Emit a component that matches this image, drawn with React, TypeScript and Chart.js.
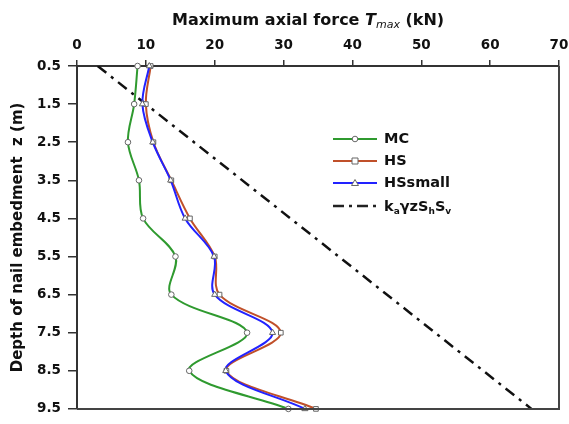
import React, { useEffect, useRef } from 'react';
import { Chart, registerables } from 'chart.js';

Chart.register(...registerables);

const depths = [0.5, 1.5, 2.5, 3.5, 4.5, 5.5, 6.5, 7.5, 8.5, 9.5];
const mcValues = [8.8, 8.3, 7.4, 9.0, 9.6, 14.3, 13.7, 24.7, 16.3, 30.7];
const hsValues = [10.7, 10.0, 11.1, 13.7, 16.4, 20.0, 20.7, 29.6, 21.7, 34.7];
const hsSmallValues = [10.5, 9.5, 11.0, 13.6, 15.7, 19.9, 20.0, 28.4, 21.6, 33.1];
const kaDepths = [0.5, 9.5];
const kaValues = [3, 66];
const depthTickLabels = ['0.5', '1.5', '2.5', '3.5', '4.5', '5.5', '6.5', '7.5', '8.5', '9.5'];

const FONT = '"DejaVu Sans", sans-serif';
const MC_COLOR = '#2f9a2f';
const HS_COLOR = '#c0502a';
const HSS_COLOR = '#2222ff';

const pts = (xs: number[], ys: number[]) => xs.map((x, i) => ({ x, y: ys[i] }));

const framePlugin = {
  id: 'frame',
  afterDraw(chart: any) {
    const { ctx, chartArea: a } = chart;
    ctx.save();
    ctx.strokeStyle = '#444';
    ctx.lineWidth = 2;
    ctx.beginPath();
    ctx.moveTo(a.right, a.top);
    ctx.lineTo(a.right, a.bottom);
    ctx.lineTo(a.left, a.bottom);
    ctx.stroke();
    ctx.restore();
  },
};

const titlePlugin = {
  id: 'xtitle',
  afterDraw(chart: any) {
    const ctx = chart.ctx;
    ctx.save();
    ctx.fillStyle = '#111';
    ctx.textBaseline = 'alphabetic';
    ctx.textAlign = 'left';
    let x = 172;
    const y = 25;
    const parts: [string, string, number][] = [
      ['Maximum axial force ', `bold 16px ${FONT}`, 0],
      ['T', `italic bold 16px ${FONT}`, 0],
      ['max', `italic 11px ${FONT}`, 3],
      [' (kN)', `bold 16px ${FONT}`, 0],
    ];
    for (const [t, f, dy] of parts) {
      ctx.font = f;
      ctx.fillText(t, x, y + dy);
      x += ctx.measureText(t).width;
    }
    ctx.restore();
  },
};

const legendPlugin = {
  id: 'customLegend',
  afterDraw(chart: any) {
    const ctx = chart.ctx;
    ctx.save();
    const x0 = 333;
    const x1 = 377;
    const tx = 384;
    const rows = [
      { y: 139, color: MC_COLOR, marker: 'circle', label: 'MC' },
      { y: 161, color: HS_COLOR, marker: 'rect', label: 'HS' },
      { y: 183, color: HSS_COLOR, marker: 'triangle', label: 'HSsmall' },
    ];
    for (const r of rows) {
      ctx.strokeStyle = r.color;
      ctx.lineWidth = 2;
      ctx.setLineDash([]);
      ctx.beginPath();
      ctx.moveTo(x0, r.y);
      ctx.lineTo(x1, r.y);
      ctx.stroke();
      ctx.fillStyle = '#fff';
      ctx.strokeStyle = '#666';
      ctx.lineWidth = 1;
      const mx = (x0 + x1) / 2;
      ctx.beginPath();
      if (r.marker === 'circle') ctx.arc(mx, r.y, 2.8, 0, Math.PI * 2);
      else if (r.marker === 'rect') ctx.rect(mx - 3, r.y - 3, 6, 6);
      else {
        ctx.moveTo(mx, r.y - 3.5);
        ctx.lineTo(mx + 3.5, r.y + 2.5);
        ctx.lineTo(mx - 3.5, r.y + 2.5);
        ctx.closePath();
      }
      ctx.fill();
      ctx.stroke();
      ctx.fillStyle = '#111';
      ctx.font = `bold 14.5px ${FONT}`;
      ctx.textBaseline = 'middle';
      ctx.fillText(r.label, tx, r.y);
    }
    const ky = 206;
    ctx.strokeStyle = '#222';
    ctx.lineWidth = 2.5;
    ctx.setLineDash([11, 5, 3, 5]);
    ctx.beginPath();
    ctx.moveTo(x0, ky);
    ctx.lineTo(x1, ky);
    ctx.stroke();
    ctx.setLineDash([]);
    ctx.fillStyle = '#111';
    ctx.textBaseline = 'alphabetic';
    const base = ky + 5;
    let x = tx;
    const parts: [string, number, number][] = [
      ['k', 14.5, 0], ['a', 9, 3], ['γzS', 14.5, 0], ['h', 9, 3], ['S', 14.5, 0], ['v', 9, 3],
    ];
    for (const [t, s, dy] of parts) {
      ctx.font = `bold ${s}px ${FONT}`;
      ctx.fillText(t, x, base + dy);
      x += ctx.measureText(t).width;
    }
    ctx.restore();
  },
};

export default function App() {
  const ref = useRef<HTMLCanvasElement | null>(null);
  useEffect(() => {
    if (!ref.current) return;
    const markerCommon = {
      pointBackgroundColor: '#fff',
      pointBorderColor: '#666',
      pointBorderWidth: 1,
      borderWidth: 2,
      tension: 0.35,
      clip: false as any,
    };
    const chart = new Chart(ref.current, {
      type: 'line',
      data: {
        datasets: [
          {
            label: 'HSsmall',
            data: pts(hsSmallValues, depths),
            borderColor: HSS_COLOR,
            pointStyle: 'triangle',
            pointRadius: 3.5,
            order: 0,
            ...markerCommon,
          },
          {
            label: 'HS',
            data: pts(hsValues, depths),
            borderColor: HS_COLOR,
            pointStyle: 'rect',
            pointRadius: 3.3,
            order: 1,
            ...markerCommon,
          },
          {
            label: 'MC',
            data: pts(mcValues, depths),
            borderColor: MC_COLOR,
            pointStyle: 'circle',
            pointRadius: 2.8,
            order: 2,
            ...markerCommon,
          },
          {
            label: 'kaγzShSv',
            data: pts(kaValues, kaDepths),
            borderColor: '#111',
            borderWidth: 2.5,
            borderDash: [11, 6, 3, 6],
            pointRadius: 0,
            tension: 0,
            order: 3,
          },
        ],
      },
      options: {
        animation: false,
        responsive: false,
        devicePixelRatio: 1,
        parsing: false as any,
        layout: { padding: { left: 0, top: 0, right: 0, bottom: 9 } },
        plugins: { legend: { display: false }, tooltip: { enabled: false } },
        scales: {
          x: {
            type: 'linear',
            position: 'top',
            min: 0,
            max: 70,
            ticks: { stepSize: 10, padding: 6, color: '#111', font: { family: FONT, size: 13.5, weight: 'bold' } },
            grid: { drawOnChartArea: false, drawTicks: true, tickLength: 6, color: '#333', lineWidth: 1.5 },
            border: { display: true, color: '#333', width: 2 },
            afterFit: (s: any) => {
              s.height = 66;
              s.paddingRight = 10;
              s.paddingLeft = 0;
            },
          },
          y: {
            type: 'linear',
            reverse: true,
            min: 0.5,
            max: 9.5,
            afterBuildTicks: (s: any) => { s.ticks = depths.map((v) => ({ value: v })); },
            ticks: {
              padding: 7,
              color: '#111',
              font: { family: FONT, size: 13.5, weight: 'bold' },
              callback: (_v: any, i: number) => depthTickLabels[i],
            },
            grid: { drawOnChartArea: false, drawTicks: true, tickLength: 9, color: '#333', lineWidth: 1.5 },
            border: { display: true, color: '#333', width: 2 },
            title: {
              display: true,
              text: 'Depth of nail embedment  z (m)',
              color: '#111',
              font: { family: FONT, size: 15, weight: 'bold' },
              padding: { top: 9, bottom: 0 },
            },
            afterFit: (s: any) => { s.width = 77; },
          },
        },
      },
      plugins: [framePlugin, titlePlugin, legendPlugin],
    } as any);
    return () => chart.destroy();
  }, []);
  return (
    <div style={{ position: 'fixed', left: 0, top: 0, width: 569, height: 424, background: '#fff' }}>
      <canvas ref={ref} width={569} height={424} style={{ display: 'block' }} />
    </div>
  );
}
